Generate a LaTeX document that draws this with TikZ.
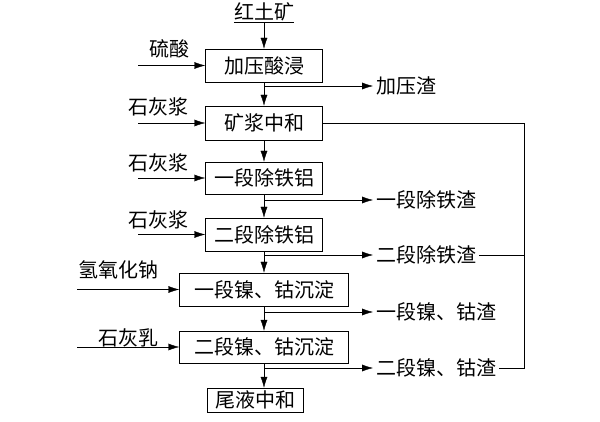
\documentclass[tikz,border=0pt]{standalone}
\usepackage{fontspec}
\setmainfont{Noto Sans CJK SC}
\usetikzlibrary{arrows.meta}

\begin{document}
\begin{tikzpicture}[x=1pt,y=-1pt,>={Latex[length=11pt,width=7pt]},font=\fontsize{20}{24}\selectfont,
  box/.style={draw,thin,inner sep=0pt,minimum height=33pt},
  slag/.style={anchor=west,inner sep=3pt}]
\useasboundingbox (0,0) rectangle (600,422);

% main line of boxes
\node[inner xsep=0pt,inner ysep=1pt] (ore) at (264,12) {红土矿};
\node[box,minimum width=117pt] (b1) at (264,65.5) {加压酸浸};
\node[box,minimum width=117pt,minimum height=34pt] (b2) at (264,123) {矿浆中和};
\node[box,minimum width=117pt,minimum height=32pt] (b3) at (264,178) {一段除铁铝};
\node[box,minimum width=117pt] (b4) at (264,234.5) {二段除铁铝};
\node[box,minimum width=169pt] (b5) at (264,289.5) {一段镍、钴沉淀};
\node[box,minimum width=169pt,minimum height=32pt] (b6) at (264,347) {二段镍、钴沉淀};
\node[box,minimum width=96pt,minimum height=24pt] (b7) at (255,400) {尾液中和};

\draw[thin] (ore.south west) -- (ore.south east);
\draw[thin,->] (ore.south) -- (b1.north);
\foreach \a/\b in {1/2,2/3,3/4,4/5,5/6}
  \draw[thin,->] (b\a.south) -- (b\b.north);
\draw[thin,->] (b6.south) -- (b6.south |- b7.north);

% reagents
\node (i1) at (169,49) {硫酸};
\node (i2) at (158,107) {石灰浆};
\node (i3) at (158,163) {石灰浆};
\node (i4) at (158,220) {石灰浆};
\node (i5) at (118,270) {氢氧化钠};
\node (i6) at (128,338) {石灰乳};
\foreach \n/\x in {1/138,2/138,3/138,4/138,5/77,6/77} {
  \coordinate (f\n) at (\x,0 |- b\n.west);
  \draw[thin,->] (f\n) -- (b\n.west);
}

% residues
\node[slag] (o1) at (373,86) {加压渣};
\node[slag] (o3) at (373,200) {一段除铁渣};
\node[slag] (o4) at (373,255) {二段除铁渣};
\node[slag] (o5) at (373,312) {一段镍、钴渣};
\node[slag] (o6) at (373,368) {二段镍、钴渣};
\foreach \n/\b in {1/1,3/3,4/4,5/5,6/6} {
  \coordinate (t\n) at (b\b.south |- o\n.west);
  \draw[thin,->] (t\n) -- (o\n.west);
}

% return line
\coordinate (r) at (524,0);
\draw[thin] (b2.east) -| (r |- o6.east) -- (o6.east);
\draw[thin] (o4.east) -- (r |- o4.east);
\end{tikzpicture}
\end{document}
